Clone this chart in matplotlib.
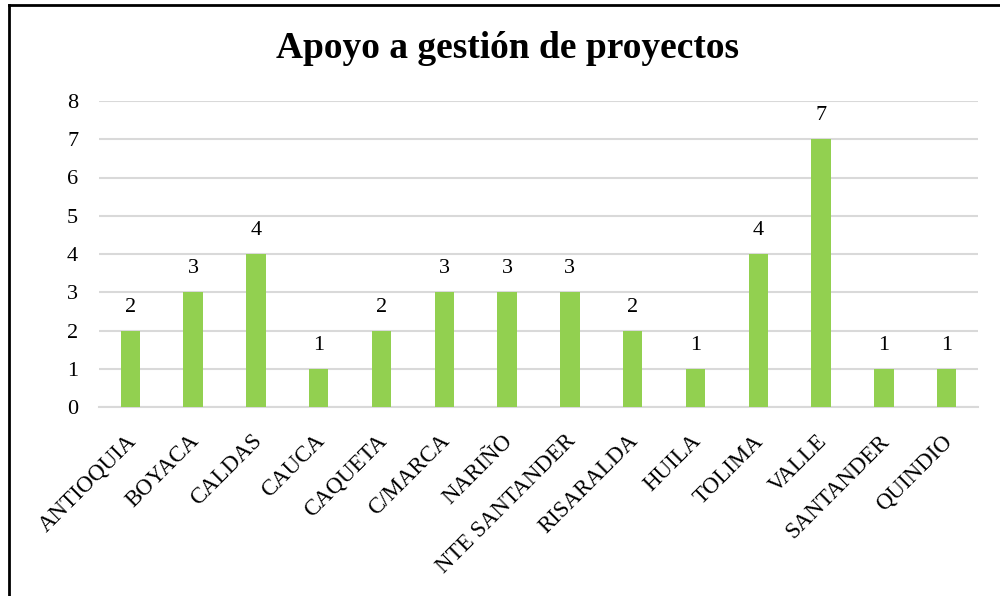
import matplotlib
matplotlib.use("Agg")
import matplotlib.pyplot as plt
import matplotlib.transforms as mtransforms
from matplotlib.lines import Line2D

categories = ["ANTIOQUIA", "BOYACA", "CALDAS", "CAUCA", "CAQUETA", "C/MARCA",
              "NARIÑO", "NTE SANTANDER", "RISARALDA", "HUILA", "TOLIMA",
              "VALLE", "SANTANDER", "QUINDIO"]
values = [2, 3, 4, 1, 2, 3, 3, 3, 2, 1, 4, 7, 1, 1]
yticks = [0, 1, 2, 3, 4, 5, 6, 7, 8]
title = "Apoyo a gestión de proyectos"

plt.rcParams['font.family'] = ['Liberation Serif', 'DejaVu Serif']

W, H = 1000, 596
fig = plt.figure(figsize=(W / 100, H / 100), dpi=100)
ax = fig.add_axes([99 / W, 1 - 407 / H, (978 - 99) / W, (407 - 101) / H])

x = list(range(len(categories)))
ax.bar(x, values, width=0.31, color="#92D050", zorder=3)
for xi, v in zip(x, values):
    ax.annotate(str(v), (xi, v), xytext=(0, 10), textcoords="offset points",
                ha="center", va="bottom", fontsize=16)

ax.set_xlim(-0.5, len(categories) - 0.5)
ax.set_ylim(0, 8)
ax.set_yticks(yticks)
ax.set_yticklabels([str(t) for t in yticks], fontsize=16)
ax.yaxis.grid(True, color="#d9d9d9", linewidth=1.5, zorder=0)
ax.tick_params(axis="y", length=0, pad=15)
ax.tick_params(axis="x", length=0, pad=17)
ax.set_xticks(x)
ax.set_xticklabels(categories, rotation=45, ha="right", rotation_mode="anchor",
                   fontsize=16.5)
shift = mtransforms.ScaledTranslation(-5 / 100, 0, fig.dpi_scale_trans)
for lbl in ax.get_xticklabels():
    lbl.set_transform(lbl.get_transform() + shift)
for s in ["top", "right", "left"]:
    ax.spines[s].set_visible(False)
ax.spines["bottom"].set_color("#d9d9d9")
ax.spines["bottom"].set_linewidth(1.5)

fig.text(508 / W, 1 - 49 / H, title, ha="center", va="center",
         fontsize=27, fontweight="bold")

# outer border (top and left)
fig.add_artist(Line2D([9 / W, 1.0], [1 - 5 / H, 1 - 5 / H], color="black",
                      linewidth=2, transform=fig.transFigure))
fig.add_artist(Line2D([9 / W, 9 / W], [1 - 5 / H, 0], color="black",
                      linewidth=2, transform=fig.transFigure))

fig.savefig("out.png", dpi=100)
